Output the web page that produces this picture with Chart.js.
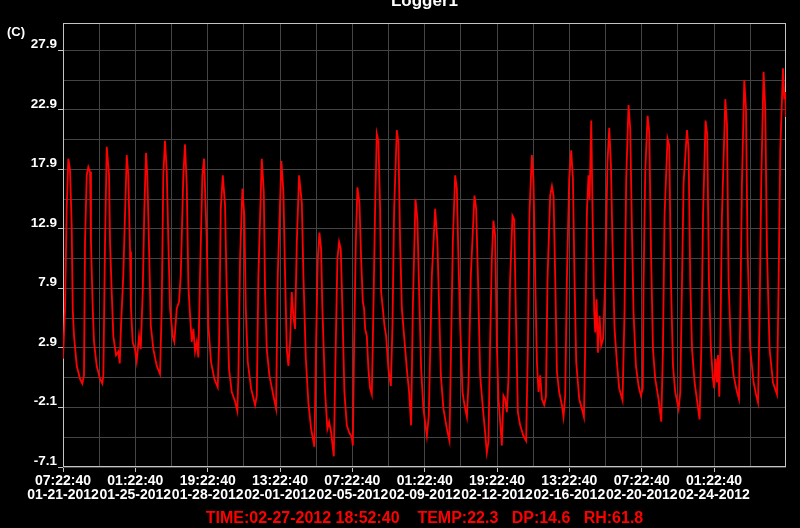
<!DOCTYPE html>
<html>
<head>
<meta charset="utf-8">
<title>Logger1</title>
<script src="https://cdn.jsdelivr.net/npm/chart.js@4.4.1/dist/chart.umd.min.js"></script>
<style>
  html, body { margin: 0; padding: 0; background: #000; }
  #wrap { width: 800px; height: 528px; }
  canvas { display: block; }
</style>
</head>
<body>
<div id="wrap"><canvas id="logger" width="800" height="528"></canvas></div>
<script>
// hours since 01-21-2012 07:22:40
var hours = [
  0, 2.5, 4.6, 6.6, 8.7, 10.8, 12.1, 13.7, 17.1, 21.2,
  24.0, 26.1, 27.4, 29.5, 31.5, 33.6, 34.8, 37.0, 38.6, 41.9,
  46.1, 48.9, 50.2, 52.3, 54.4, 57.3, 58.5, 60.6, 62.6, 66.0,
  68.8, 70.6, 72.2, 75.0, 79.3, 81.3, 83.4, 84.6, 86.7, 89.6,
  91.7, 94.6, 96.7, 99.2, 101.2, 103.3, 104.9, 107.4, 109.2, 112.4,
  116.6, 120.7, 122.8, 124.8, 126.9, 129.1, 131.1, 133.2, 136.5, 138.5,
  141.5, 144.4, 146.5, 149.7, 151.8, 154.0, 156.0, 158.1, 160.2, 162.2,
  164.3, 166.4, 168.4, 170.5, 173.4, 175.5, 178.9, 180.8, 184.2, 188.3,
  192.5, 194.2, 196.3, 198.8, 201.6, 203.7, 206.6, 210.0, 214.1, 216.9,
  218.2, 220.3, 223.2, 225.6, 227.4, 229.9, 234.0, 239.0, 241.1, 243.1,
  247.3, 249.8, 251.4, 253.5, 256.8, 261.7, 265.1, 267.2, 271.7, 274.2,
  276.3, 278.4, 280.4, 282.5, 284.6, 286.6, 288.7, 290.9, 293.7, 297.1,
  299.1, 302.1, 305.3, 308.7, 312.8, 314.9, 317.0, 319.0, 321.1, 322.7,
  326.1, 328.9, 331.1, 333.6, 336.9, 339.4, 341.4, 343.5, 345.6, 347.6,
  350.1, 353.1, 356.0, 359.3, 360.6, 362.2, 364.3, 366.3, 368.8, 370.9,
  373.0, 374.6, 375.9, 378.0, 380.0, 382.1, 384.2, 386.2, 388.3, 390.4,
  392.4, 394.5, 395.8, 397.9, 399.9, 402.0, 404.9, 407.9, 409.9, 412.0,
  415.3, 417.3, 419.4, 421.6, 424.4, 427.8, 430.6, 433.1, 435.2, 438.5,
  440.9, 443.1, 445.6, 448.4, 452.7, 455.1, 458.9, 463.0, 465.8, 468.0,
  470.1, 473.3, 477.6, 480.8, 482.9, 485.0, 487.9, 490.0, 492.0, 494.1,
  497.0, 499.5, 502.5, 504.5, 507.4, 511.9, 514.0, 516.2, 519.0, 522.4,
  525.2, 527.3, 529.3, 531.4, 533.5, 535.5, 537.7, 539.8, 541.8, 543.9,
  546.0, 548.0, 550.1, 552.2, 554.2, 556.3, 559.2, 561.3, 563.4, 565.9,
  568.8, 572.9, 576.2, 578.4, 580.4, 583.3, 585.3, 587.5, 589.6, 591.6,
  593.7, 595.8, 598.7, 600.8, 602.8, 606.1, 608.3, 610.3, 612.4, 614.5,
  617.3, 620.7, 622.7, 624.8, 626.9, 629.8, 632.3, 634.4, 636.4, 638.5,
  642.3, 645.6, 648.1, 649.7, 651.8, 653.8, 655.1, 657.2, 658.8, 660.9,
  662.2, 663.8, 665.5, 667.5, 669.6, 672.1, 674.6, 677.4, 679.6, 681.7,
  683.7, 686.2, 689.1, 692.0, 696.1, 698.6, 700.7, 703.6, 705.7, 707.8,
  709.8, 712.8, 716.1, 719.0, 721.3, 722.3, 724.4, 727.3, 729.4, 731.5,
  734.0, 736.8, 740.9, 744.3, 746.4, 748.4, 752.1, 754.3, 756.4, 758.9,
  761.7, 765.9, 768.0, 770.1, 772.1, 776.3, 778.3, 780.4, 782.6, 785.8,
  789.6, 792.0, 794.1, 796.3, 799.4, 801.5, 803.7, 806.1, 808.6, 810.2,
  811.9, 813.6, 814.9, 816.5, 817.7, 819.8, 824.0, 826.1, 828.1, 831.0,
  834.3, 838.5, 841.0, 842.6, 844.7, 847.6, 849.7, 851.7, 855.0, 859.2,
  862.5, 864.7, 866.6, 868.7, 871.6, 873.7, 875.8, 879.1, 883.3, 888.3,
  890.3, 892.4, 895.8, 897.4, 898.6, 899.5
];

// temperature (C)
var temps = [
  2.0, 6.2, 14.6, 18.8, 17.9, 13.2, 6.2, 3.9, 1.4, 0.3,
  -0.1, 0.6, 11.8, 17.4, 18.1, 17.7, 11.8, 6.2, 3.4, 1.4,
  0.3, -0.1, 0.6, 11.8, 19.8, 17.4, 11.8, 7.6, 3.9, 2.3,
  2.6, 1.6, 4.8, 9.0, 19.1, 17.4, 11.0, 6.2, 3.4, 2.8,
  1.8, 3.9, 2.8, 7.6, 14.6, 19.3, 17.4, 10.4, 4.8, 2.8,
  1.4, 0.7, 6.2, 17.4, 20.3, 17.7, 11.8, 6.2, 3.9, 3.4,
  6.2, 6.8, 9.0, 17.4, 20.0, 16.5, 8.1, 5.6, 3.4, 4.5,
  2.6, 3.4, 2.1, 9.0, 17.4, 18.8, 11.8, 4.8, 1.7, 0.3,
  -0.4, 3.4, 14.6, 17.4, 14.9, 7.6, 1.1, -0.8, -1.6, -2.4,
  0.6, 10.4, 16.3, 14.0, 6.2, 1.7, -0.5, -1.9, -1.1, 9.0,
  18.8, 16.0, 7.6, 2.8, 0.6, -1.1, -2.2, 9.0, 18.6, 16.0,
  9.0, 2.8, 1.4, 3.4, 7.6, 5.6, 4.5, 11.8, 17.4, 15.1,
  9.0, 2.0, -1.7, -3.9, -5.4, 3.4, 10.4, 12.6, 11.2, 6.2,
  -0.8, -3.9, -3.3, -4.2, -6.2, 3.4, 10.4, 11.8, 11.2, 6.2,
  -0.8, -3.6, -4.2, -4.6, -5.3, 3.4, 11.8, 16.4, 15.1, 10.4,
  6.8, 6.2, 4.5, 3.9, 1.1, -0.5, -1.0, 6.2, 14.6, 20.9,
  20.3, 14.6, 7.6, 6.2, 4.8, 3.9, 1.1, -0.3, 4.8, 14.6,
  21.2, 20.2, 11.8, 6.2, 3.9, 1.1, -0.8, -3.6, 6.2, 15.4,
  13.7, 7.6, 1.1, -2.2, -4.5, -2.8, 9.0, 14.6, 11.8, 6.2,
  0.6, -2.2, -3.9, -4.9, 3.4, 11.8, 17.4, 16.3, 10.4, 4.8,
  -0.8, -1.9, -2.9, 0.0, 9.0, 15.7, 14.6, 9.0, 0.6, -2.2,
  -4.2, -5.9, -5.0, 3.4, 10.4, 13.6, 12.3, 3.1, -1.4, -3.3,
  -5.3, -1.1, -1.4, -2.5, 0.3, 8.7, 14.0, 13.7, 5.9, -2.5,
  -3.6, -4.5, -4.9, 3.1, 14.3, 19.1, 17.1, 8.7, 1.7, -0.8,
  0.6, -1.4, -1.9, -1.2, 8.7, 15.7, 16.5, 15.7, 8.7, 0.9,
  -0.8, -1.9, -2.9, -1.1, 8.7, 17.1, 19.5, 17.1, 8.7, 1.7,
  -1.4, -2.2, -2.9, 3.1, 14.3, 17.4, 15.4, 22.0, 14.3, 5.9,
  4.2, 7.0, 2.5, 5.6, 3.1, 3.7, 8.7, 18.5, 21.4, 18.2,
  11.5, 4.5, 1.7, -0.5, -1.5, 5.9, 17.1, 23.3, 21.3, 12.9,
  5.9, 1.4, -0.3, -1.1, -0.5, 8.4, 17.7, 22.4, 21.0, 11.2,
  2.8, 0.3, -1.4, -3.3, 2.8, 14.0, 20.5, 19.9, 8.4, 1.4,
  -0.8, -2.2, -0.8, 8.4, 16.8, 21.2, 19.6, 8.4, 2.8, 0.0,
  -1.9, -3.1, 2.8, 14.0, 22.0, 20.8, 8.4, 2.8, 0.3, -0.5,
  2.0, 0.0, 2.3, -1.2, 2.8, 14.0, 23.8, 21.6, 8.4, 2.8,
  0.6, -0.8, -1.4, 5.6, 16.8, 25.4, 23.0, 11.2, 2.8, 0.0,
  -1.1, -1.7, 5.6, 16.8, 26.1, 23.0, 11.2, 2.8, 0.0, -1.0,
  8.4, 19.6, 26.4, 23.8, 24.4, 22.3
];

// grid positions, labels on every second one
var xTicks = [0, 45, 90, 135, 180, 225, 270, 315, 360, 405, 450, 495, 540, 585, 630, 675, 720, 765, 810, 855];
var xTickTimes = ['07:22:40', '01:22:40', '19:22:40', '13:22:40', '07:22:40', '01:22:40', '19:22:40', '13:22:40', '07:22:40', '01:22:40'];
var xTickDates = ['01-21-2012', '01-25-2012', '01-28-2012', '02-01-2012', '02-05-2012', '02-09-2012', '02-12-2012', '02-16-2012', '02-20-2012', '02-24-2012'];
var yTicks = [-7.1, -4.6, -2.1, 0.4, 2.9, 5.4, 7.9, 10.4, 12.9, 15.4, 17.9, 20.4, 22.9, 25.4, 27.9];
var yTickLabels = ['-7.1', '-2.1', '2.9', '7.9', '12.9', '17.9', '22.9', '27.9'];

var xMin = 0, xMax = 899.5;
var yMin = -7.1, yMax = 30.2;

var title = 'Logger1';
var unitLabel = '(C)';
var statusLine = 'TIME:02-27-2012 18:52:40    TEMP:22.3   DP:14.6   RH:61.8';

Chart.defaults.font.family = '"Liberation Sans", Arial, sans-serif';

var gridGrey = '#444444';
var frameGrey = '#c4c4c4';

var framePlugin = {
  id: 'framePlugin',
  beforeDatasetsDraw: function(chart) {
    var ctx = chart.ctx, a = chart.chartArea;
    ctx.save();
    ctx.strokeStyle = frameGrey;
    ctx.lineWidth = 1;
    ctx.strokeRect(Math.round(a.left) + 0.5, Math.round(a.top) + 0.5,
      Math.round(a.right - a.left) - 1, Math.round(a.bottom - a.top) - 1);
    ctx.restore();
  },
  afterDraw: function(chart) {
    var ctx = chart.ctx, a = chart.chartArea;
    var mid = (a.left + a.right) / 2;
    ctx.save();
    ctx.fillStyle = '#ffffff';
    ctx.font = 'bold 17px "Liberation Sans", Arial, sans-serif';
    ctx.textAlign = 'center';
    ctx.textBaseline = 'alphabetic';
    ctx.fillText(title, mid, 6);

    ctx.font = 'bold 13px "Liberation Sans", Arial, sans-serif';
    ctx.textAlign = 'left';
    ctx.textBaseline = 'middle';
    ctx.fillText(unitLabel, 7, 32);

    ctx.fillStyle = '#ff0000';
    ctx.font = 'bold 16px "Liberation Sans", Arial, sans-serif';
    ctx.textAlign = 'center';
    ctx.textBaseline = 'alphabetic';
    ctx.fillText(statusLine, mid, 523);
    ctx.restore();
  }
};

var points = hours.map(function(h, i) { return { x: h, y: temps[i] }; });

new Chart(document.getElementById('logger'), {
  type: 'line',
  data: {
    datasets: [{
      label: 'TEMP',
      data: points,
      borderColor: '#ff0000',
      borderWidth: 1.8,
      pointRadius: 0,
      tension: 0,
      fill: false
    }]
  },
  options: {
    responsive: false,
    animation: false,
    layout: { padding: { top: 23, right: 14, left: 0, bottom: 0 } },
    plugins: {
      legend: { display: false },
      tooltip: { enabled: false },
      title: { display: false }
    },
    scales: {
      x: {
        type: 'linear',
        min: xMin,
        max: xMax,
        afterBuildTicks: function(scale) {
          scale.ticks = xTicks.map(function(v) { return { value: v }; });
        },
        afterFit: function(scale) { scale.height = 61; },
        border: { display: false },
        grid: {
          color: gridGrey,
          lineWidth: 1,
          tickLength: 5,
          tickColor: function(c) { return c.index % 2 === 0 ? frameGrey : 'rgba(0,0,0,0)'; }
        },
        ticks: {
          color: '#ffffff',
          font: { size: 14, weight: 'bold', lineHeight: 1.0 },
          padding: 2,
          autoSkip: false,
          minRotation: 0,
          maxRotation: 0,
          callback: function(value, index) {
            if (index % 2 !== 0) return '';
            return [xTickTimes[index / 2], xTickDates[index / 2]];
          }
        }
      },
      y: {
        type: 'linear',
        min: yMin,
        max: yMax,
        afterBuildTicks: function(scale) {
          scale.ticks = yTicks.map(function(v) { return { value: v }; });
        },
        afterFit: function(scale) { scale.width = 63; },
        border: { display: false },
        grid: {
          color: gridGrey,
          lineWidth: 1,
          tickLength: 5,
          tickColor: function(c) { return c.index % 2 === 0 ? frameGrey : 'rgba(0,0,0,0)'; }
        },
        ticks: {
          color: '#ffffff',
          font: { size: 13.5, weight: 'bold' },
          padding: 1,
          labelOffset: -6,
          callback: function(value, index) {
            return index % 2 === 0 ? yTickLabels[index / 2] : '';
          }
        }
      }
    }
  },
  plugins: [framePlugin]
});
</script>
</body>
</html>
